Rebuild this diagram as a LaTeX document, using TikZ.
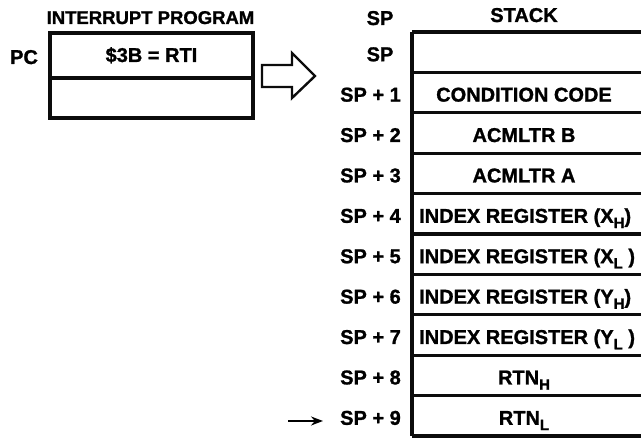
\documentclass[tikz,border=0pt]{standalone}
\usepackage{fontspec}
\setmainfont[BoldFeatures={FakeBold=1.2}]{Liberation Sans}
\usetikzlibrary{arrows.meta}

\newcommand{\lsub}[1]{\raisebox{-0.5ex}{\fontsize{15pt}{15pt}\selectfont #1}}

\tikzset{
	reg/.style={font=\fontsize{20pt}{24pt}\selectfont\bfseries, inner sep=0pt},
	ttl/.style={font=\fontsize{18.5pt}{22pt}\selectfont\bfseries, inner sep=0pt},
	frame/.style={color={rgb,255:red,12; green,12; blue,12}, line width=3.2pt},
}

\begin{document}
\begin{tikzpicture}[x=1pt,y=-1pt]
		\useasboundingbox (0,0) rectangle (641,438);
		
		% interrupt program
		\node[ttl, anchor=base] (title) at (150.5,24) {INTERRUPT PROGRAM};
		\node[reg, anchor=base] (pc) at (24,64) {PC};
		\node[reg, anchor=base] (rti) at (151.5,62) {\$3B = RTI};
		\draw[frame] (50,33) rectangle (253,118);
		\draw[frame] (50,78) -- (253,78);
		
		% hollow arrow
		\draw[frame, line width=2.4pt, line join=miter] (262,65) -- (292,65) -- (292,53) -- (315,76) -- (292,98) -- (292,87) -- (262,87) -- cycle;
		
		% stack
		\node[reg, anchor=base] (sphead) at (380,25) {SP};
		\node[reg, anchor=base] (stack) at (524,22) {STACK};
		
		\draw[frame] (412,32) -- (412,436);
		\draw[frame] (412,32) -- (650,32);
		\draw[frame] (412,72.4) -- (650,72.4);
		\draw[frame] (412,112.8) -- (650,112.8);
		\draw[frame] (412,153.2) -- (650,153.2);
		\draw[frame] (412,193.6) -- (650,193.6);
		\draw[frame] (412,234) -- (650,234);
		\draw[frame] (412,274.4) -- (650,274.4);
		\draw[frame] (412,314.8) -- (650,314.8);
		\draw[frame] (412,355.2) -- (650,355.2);
		\draw[frame] (412,395.6) -- (650,395.6);
		\draw[frame] (412,436) -- (650,436);
		
		\node[reg, anchor=base] (sp0) at (380,61.2) {SP};
		\node[reg, anchor=base east] (sp1) at (401,101.6) {SP + 1};
		\node[reg, anchor=base east] (sp2) at (401,142) {SP + 2};
		\node[reg, anchor=base east] (sp3) at (401,182.4) {SP + 3};
		\node[reg, anchor=base east] (sp4) at (401,222.8) {SP + 4};
		\node[reg, anchor=base east] (sp5) at (401,263.2) {SP + 5};
		\node[reg, anchor=base east] (sp6) at (401,303.6) {SP + 6};
		\node[reg, anchor=base east] (sp7) at (401,344) {SP + 7};
		\node[reg, anchor=base east] (sp8) at (401,384.4) {SP + 8};
		\node[reg, anchor=base east] (sp9) at (401,424.8) {SP + 9};
		
		\node[reg, anchor=base] (ccr) at (524,101.6) {CONDITION CODE};
		\node[reg, anchor=base] (accb) at (524,142) {ACMLTR B};
		\node[reg, anchor=base] (acca) at (524,182.4) {ACMLTR A};
		\node[reg, anchor=base west] (ixh) at (419,222.8) {INDEX REGISTER (X\lsub{H})};
		\node[reg, anchor=base west] (ixl) at (419,263.2) {INDEX REGISTER (X\lsub{L} )};
		\node[reg, anchor=base west] (iyh) at (419,303.6) {INDEX REGISTER (Y\lsub{H})};
		\node[reg, anchor=base west] (iyl) at (419,344) {INDEX REGISTER (Y\lsub{L} )};
		\node[reg, anchor=base] (rtnh) at (524,384.4) {RTN\lsub{H}};
		\node[reg, anchor=base] (rtnl) at (524,424.8) {RTN\lsub{L}};
		
		% new stack pointer
		\coordinate (tail) at (288,421);
		\draw[line width=1.8pt, -{Stealth[length=12pt, width=9pt]}, shorten >=17pt] (tail) -- (tail -| sp9.west);
		
\end{tikzpicture}
\end{document}
